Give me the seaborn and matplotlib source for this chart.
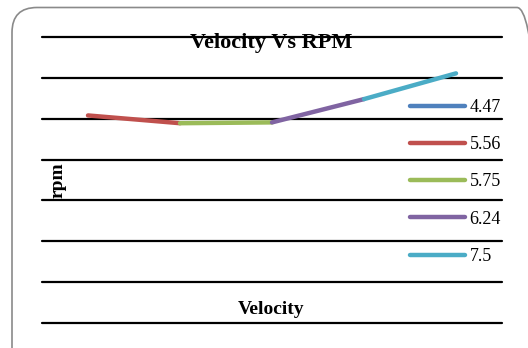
import matplotlib
matplotlib.use("Agg")
import matplotlib.pyplot as plt
from matplotlib.lines import Line2D
from matplotlib.patches import FancyBboxPatch
from matplotlib.transforms import IdentityTransform
import pandas as pd
import seaborn as sns

# Velocity categories and measured rpm
velocity = ["4.47", "5.56", "5.75", "6.24", "7.5"]
rpm = [508, 489, 491, 548, 611]
colors = ["#4F81BD", "#C0504D", "#9BBB59", "#8064A2", "#4BACC6"]
y_ticks = [0, 100, 200, 300, 400, 500, 600, 700]

sns.set_theme(style="white")
plt.rcParams["font.family"] = ["Liberation Serif", "DejaVu Serif"]
plt.rcParams["text.color"] = "black"
plt.rcParams["axes.labelcolor"] = "black"

W, H, DPI = 528, 348, 100
fig = plt.figure(figsize=(W / DPI, H / DPI), dpi=DPI)
fig.patch.set_facecolor("white")

# plot area in pixel terms: x 42..502, y 37..323 (from top)
ax = fig.add_axes([42 / W, (H - 323) / H, 460 / W, 286 / H])
ax.set_facecolor("none")

# each segment takes the colour of the point it ends on
rows = []
for i in range(1, len(velocity)):
    for j in (i - 1, i):
        rows.append({"pos": j, "rpm": rpm[j], "seg": velocity[i]})
seg_df = pd.DataFrame(rows)
palette = dict(zip(velocity, colors))

sns.lineplot(data=seg_df, x="pos", y="rpm", hue="seg", palette=palette,
             estimator=None, sort=False, legend=False, ax=ax,
             linewidth=3.2, solid_capstyle="round", zorder=3)

ax.set_xlim(-0.5, len(velocity) - 0.5)
ax.set_ylim(y_ticks[0], y_ticks[-1])
ax.set_yticks(y_ticks)
ax.set_xticks([])
ax.tick_params(left=False, labelleft=False)
ax.grid(axis="y", color="black", linewidth=1.6)
ax.grid(axis="x", visible=False)
for gl in ax.get_ygridlines():
    gl.set_clip_on(False)
for s in ax.spines.values():
    s.set_visible(False)

ax.set_xlabel("Velocity", fontsize=14, fontweight="bold", va="center")
ax.xaxis.set_label_coords((271 - 42) / 460, (323 - 309) / 286)
ax.set_ylabel("rpm", fontsize=14, fontweight="bold", va="center")
ax.yaxis.set_label_coords((58 - 42) / 460, (323 - 180) / 286)

ax.text((271 - 42) / 460, (323 - 43) / 286, "Velocity Vs RPM",
        transform=ax.transAxes, ha="center", va="center",
        fontsize=16, fontweight="bold", zorder=4)

handles = [Line2D([], [], color=c, linewidth=3.2, solid_capstyle="round")
           for c in colors]
ax.legend(handles, velocity, loc="upper left",
          bbox_to_anchor=(410 / W, (H - 99) / H), bbox_transform=fig.transFigure,
          frameon=False, fontsize=13, handlelength=3.05, handletextpad=0.25,
          labelspacing=1.12, borderpad=0, borderaxespad=0, labelcolor="black")

# rounded chart border, running off the right and bottom edges
border = FancyBboxPatch((12, -40), 530, H - 7.5 + 40, transform=IdentityTransform(),
                        boxstyle="round,pad=0,rounding_size=25",
                        facecolor="none", edgecolor="#8a8a8a", linewidth=1.2)
fig.add_artist(border)

fig.savefig("out.png", dpi=DPI)
